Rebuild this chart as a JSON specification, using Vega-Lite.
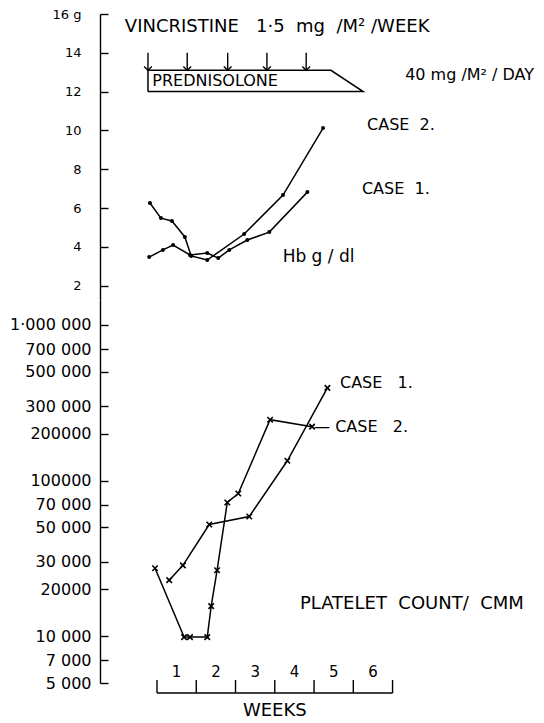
{
  "$schema": "https://vega.github.io/schema/vega-lite/v6.json",
  "background": "white",
  "padding": {"left": 9, "top": 8, "right": 5, "bottom": 5},
  "spacing": 0,
  "bounds": "flush",
  "config": {
    "view": {"stroke": null},
    "font": "DejaVu Sans",
    "axis": {"domainColor": "black", "tickColor": "black", "labelColor": "black", "domainWidth": 1.4, "tickWidth": 1.4, "grid": false, "labelFont": "DejaVu Sans"},
    "text": {"font": "DejaVu Sans", "color": "black"}
  },
  "datasets": {
    "hb": [
      {"case": "Case 1", "wk": -0.2, "hb": 3.47},
      {"case": "Case 1", "wk": 0.15, "hb": 3.84},
      {"case": "Case 1", "wk": 0.41, "hb": 4.09},
      {"case": "Case 1", "wk": 0.84, "hb": 3.58},
      {"case": "Case 1", "wk": 1.28, "hb": 3.68},
      {"case": "Case 1", "wk": 1.56, "hb": 3.42},
      {"case": "Case 1", "wk": 1.84, "hb": 3.84},
      {"case": "Case 1", "wk": 2.3, "hb": 4.35},
      {"case": "Case 1", "wk": 2.86, "hb": 4.76},
      {"case": "Case 1", "wk": 3.83, "hb": 6.82},
      {"case": "Case 2", "wk": -0.18, "hb": 6.26},
      {"case": "Case 2", "wk": 0.1, "hb": 5.48},
      {"case": "Case 2", "wk": 0.38, "hb": 5.33},
      {"case": "Case 2", "wk": 0.71, "hb": 4.51},
      {"case": "Case 2", "wk": 0.87, "hb": 3.53},
      {"case": "Case 2", "wk": 1.28, "hb": 3.32},
      {"case": "Case 2", "wk": 2.22, "hb": 4.66},
      {"case": "Case 2", "wk": 3.21, "hb": 6.67},
      {"case": "Case 2", "wk": 4.23, "hb": 10.12}
    ],
    "pred": [
      {"i": 0, "wk": -0.23, "hb": 12.0},
      {"i": 1, "wk": -0.23, "hb": 13.1},
      {"i": 2, "wk": 4.43, "hb": 13.1},
      {"i": 3, "wk": 5.25, "hb": 12.0},
      {"i": 4, "wk": -0.23, "hb": 12.0}
    ],
    "vinc": [
      {"wk": -0.23, "top": 14.0, "hb": 13.1},
      {"wk": 0.77, "top": 14.0, "hb": 13.1},
      {"wk": 1.8, "top": 14.0, "hb": 13.1},
      {"wk": 2.8, "top": 14.0, "hb": 13.1},
      {"wk": 3.8, "top": 14.0, "hb": 13.1}
    ],
    "notes1": [
      {"kind": "big", "label": "VINCRISTINE\u00a0\u00a0\u00a01·5\u00a0\u00a0mg\u00a0\u00a0/M²\u00a0/WEEK", "wk": -0.82, "hb": 15.33},
      {"kind": "pred", "label": "PREDNISOLONE", "wk": -0.12, "hb": 12.55},
      {"kind": "mid", "label": "40 mg /M² / DAY", "wk": 6.32, "hb": 12.86},
      {"kind": "mid", "label": "CASE\u00a0\u00a02.", "wk": 5.35, "hb": 10.28},
      {"kind": "mid", "label": "CASE\u00a0\u00a01.", "wk": 5.22, "hb": 6.98},
      {"kind": "hb", "label": "Hb g / dl", "wk": 3.2, "hb": 3.47}
    ],
    "plt": [
      {"case": "Case 1", "wk": 0.31, "plt": 22900},
      {"case": "Case 1", "wk": 0.66, "plt": 28500},
      {"case": "Case 1", "wk": 1.33, "plt": 52200},
      {"case": "Case 1", "wk": 2.35, "plt": 58700},
      {"case": "Case 1", "wk": 3.32, "plt": 134000},
      {"case": "Case 1", "wk": 4.34, "plt": 394000},
      {"case": "Case 2", "wk": -0.05, "plt": 27300},
      {"case": "Case 2", "wk": 0.69, "plt": 9860},
      {"case": "Case 2", "wk": 0.84, "plt": 9860},
      {"case": "Case 2", "wk": 1.28, "plt": 9860},
      {"case": "Case 2", "wk": 1.38, "plt": 15600},
      {"case": "Case 2", "wk": 1.53, "plt": 26500},
      {"case": "Case 2", "wk": 1.79, "plt": 72300},
      {"case": "Case 2", "wk": 2.07, "plt": 82600},
      {"case": "Case 2", "wk": 2.88, "plt": 246000},
      {"case": "Case 2", "wk": 3.95, "plt": 222000}
    ],
    "notes2": [
      {"kind": "mid", "label": "CASE\u00a0\u00a0\u00a01.", "wk": 4.66, "plt": 425000},
      {"kind": "mid", "label": "—\u00a0CASE\u00a0\u00a0\u00a02.", "wk": 4.0, "plt": 222000},
      {"kind": "big", "label": "PLATELET\u00a0\u00a0COUNT/\u00a0\u00a0CMM", "wk": 3.64, "plt": 16000}
    ],
    "weekticks": [{"wk": 0}, {"wk": 1}, {"wk": 2}, {"wk": 3}, {"wk": 4}, {"wk": 5}, {"wk": 6}],
    "weeklabels": [
      {"wk": 0.5, "label": "1"}, {"wk": 1.5, "label": "2"}, {"wk": 2.5, "label": "3"},
      {"wk": 3.5, "label": "4"}, {"wk": 4.5, "label": "5"}, {"wk": 5.5, "label": "6"}
    ],
    "weekline": [{"wk": 0, "wk2": 6}],
    "weektitle": [{"wk": 3, "label": "WEEKS"}]
  },
  "vconcat": [
    {
      "width": 439,
      "height": 286,
      "encoding": {
        "x": {"field": "wk", "type": "quantitative", "scale": {"domain": [-1.452, 9.73], "nice": false, "zero": false}, "axis": null},
        "y": {"field": "hb", "type": "quantitative", "scale": {"domain": [1.26, 16], "nice": false, "zero": false},
              "axis": {"values": [2, 4, 6, 8, 10, 12, 14, 16], "title": null, "tickSize": -8, "labelPadding": 27, "labelFontSize": 13, "labelExpr": "datum.value == 16 ? '16 g' : datum.label"}}
      },
      "layer": [
        {"data": {"name": "hb"}, "mark": {"type": "line", "color": "black", "strokeWidth": 1.5}, "encoding": {"detail": {"field": "case"}}},
        {"data": {"name": "hb"}, "mark": {"type": "point", "filled": true, "color": "black", "size": 16, "opacity": 1}},
        {"data": {"name": "pred"}, "mark": {"type": "line", "color": "black", "strokeWidth": 1.5}, "encoding": {"order": {"field": "i"}}},
        {"data": {"name": "vinc"}, "mark": {"type": "rule", "color": "black", "strokeWidth": 1.4}, "encoding": {"y": {"field": "top", "type": "quantitative"}, "y2": {"field": "hb"}}},
        {"data": {"name": "vinc"}, "mark": {"type": "point", "shape": "M-1,-1L0,0L1,-1", "filled": false, "color": "black", "strokeWidth": 1.4, "size": 60, "opacity": 1}},
        {"data": {"name": "notes1"}, "transform": [{"filter": "datum.kind == 'big'"}], "mark": {"type": "text", "align": "left", "baseline": "middle", "fontSize": 18}, "encoding": {"text": {"field": "label"}}},
        {"data": {"name": "notes1"}, "transform": [{"filter": "datum.kind == 'hb'"}], "mark": {"type": "text", "align": "left", "baseline": "middle", "fontSize": 17}, "encoding": {"text": {"field": "label"}}},
        {"data": {"name": "notes1"}, "transform": [{"filter": "datum.kind == 'pred'"}], "mark": {"type": "text", "align": "left", "baseline": "middle", "fontSize": 16}, "encoding": {"text": {"field": "label"}}},
        {"data": {"name": "notes1"}, "transform": [{"filter": "datum.kind == 'mid'"}], "mark": {"type": "text", "align": "left", "baseline": "middle", "fontSize": 16}, "encoding": {"text": {"field": "label"}}}
      ]
    },
    {
      "width": 439,
      "height": 383,
      "encoding": {
        "x": {"field": "wk", "type": "quantitative", "scale": {"domain": [-1.452, 9.73], "nice": false, "zero": false}, "axis": null},
        "y": {"field": "plt", "type": "quantitative", "scale": {"type": "log", "domain": [5000, 1446000], "nice": false},
              "axis": {"values": [5000, 7000, 10000, 20000, 30000, 50000, 70000, 100000, 200000, 300000, 500000, 700000, 1000000], "title": null, "tickSize": -8, "labelPadding": 17, "labelFontSize": 16,
                       "labelExpr": "datum.value == 1000000 ? '1·000 000' : datum.value == 200000 ? '200000' : datum.value == 100000 ? '100000' : datum.value == 20000 ? '20000' : join(split(format(datum.value, ','), ','), ' ')"}}
      },
      "layer": [
        {"data": {"name": "plt"}, "mark": {"type": "line", "color": "black", "strokeWidth": 1.5}, "encoding": {"detail": {"field": "case"}}},
        {"data": {"name": "plt"}, "mark": {"type": "point", "shape": "M-1,-1L1,1M-1,1L1,-1", "filled": false, "color": "black", "strokeWidth": 1.6, "size": 30, "opacity": 1}},
        {"data": {"name": "notes2"}, "transform": [{"filter": "datum.kind == 'mid'"}], "mark": {"type": "text", "align": "left", "baseline": "middle", "fontSize": 16}, "encoding": {"text": {"field": "label"}}},
        {"data": {"name": "notes2"}, "transform": [{"filter": "datum.kind == 'big'"}], "mark": {"type": "text", "align": "left", "baseline": "middle", "fontSize": 18}, "encoding": {"text": {"field": "label"}}}
      ]
    },
    {
      "width": 439,
      "height": 10,
      "encoding": {
        "x": {"field": "wk", "type": "quantitative", "scale": {"domain": [-1.452, 9.73], "nice": false, "zero": false}, "axis": null}
      },
      "layer": [
        {"data": {"name": "weekline"}, "mark": {"type": "rule", "color": "black", "strokeWidth": 1.4},
         "encoding": {"x2": {"field": "wk2"}, "y": {"datum": 0, "type": "quantitative", "scale": {"domain": [0, 1], "nice": false}, "axis": null}}},
        {"data": {"name": "weekticks"}, "mark": {"type": "rule", "color": "black", "strokeWidth": 1.4},
         "encoding": {"y": {"datum": 0, "type": "quantitative"}, "y2": {"datum": 1.3}}},
        {"data": {"name": "weeklabels"}, "mark": {"type": "text", "fontSize": 15, "baseline": "middle"},
         "encoding": {"y": {"datum": 2.1, "type": "quantitative"}, "text": {"field": "label"}}},
        {"data": {"name": "weektitle"}, "mark": {"type": "text", "fontSize": 18, "baseline": "middle"},
         "encoding": {"y": {"datum": -1.8, "type": "quantitative"}, "text": {"field": "label"}}}
      ]
    }
  ]
}
